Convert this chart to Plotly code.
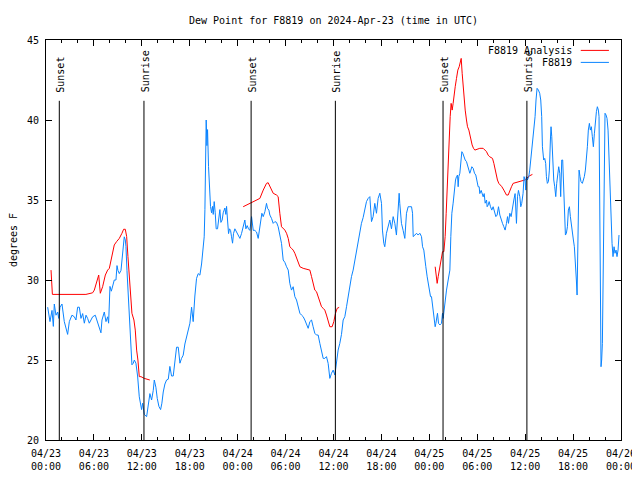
import pandas as pd
import plotly.graph_objects as go

START = pd.Timestamp("2024-04-23 00:00")

# F8819 observations: hours after 2024-04-23 00:00 UTC, dew point (F)
obs_hours = [
    0.21, 0.50, 0.75, 0.92, 1.04, 1.25, 1.46, 1.59, 1.75, 2.00, 2.29, 2.50, 2.71, 2.92, 3.25, 3.55,
    3.75, 3.96, 4.17, 4.38, 4.59, 4.80, 5.01, 5.21, 5.42, 5.63, 5.84, 6.17, 6.47, 6.68, 6.88, 7.01,
    7.30, 7.51, 7.72, 7.84, 8.01, 8.18, 8.34, 8.55, 8.76, 8.89, 9.01, 9.18, 9.39, 9.51, 9.68, 9.80,
    9.93, 10.01, 10.14, 10.26, 10.43, 10.64, 10.76, 10.93, 11.06, 11.26, 11.47, 11.68, 11.85, 11.97,
    12.10, 12.31,
    12.60, 12.80, 13.01, 13.22, 13.43, 13.56, 13.76, 13.93, 14.14, 14.35, 14.51, 14.68, 14.89, 15.10,
    15.31, 15.51, 15.72, 15.93, 16.14, 16.35, 16.56, 16.77, 16.97, 17.18, 17.39, 17.60, 17.81, 18.02,
    18.23, 18.43, 18.64, 18.85, 19.06, 19.27, 19.48, 19.69, 19.81, 19.90, 19.98, 20.06, 20.15, 20.23,
    20.35, 20.48, 20.60, 20.73, 20.85, 20.94, 21.06, 21.19, 21.31, 21.48, 21.65, 21.77, 21.90, 22.06,
    22.19, 22.40, 22.52, 22.61, 22.73, 22.86, 22.98, 23.11, 23.23, 23.36, 23.48, 23.65, 23.86, 24.07,
    24.28, 24.48, 24.69, 24.90, 25.03, 25.19, 25.36,
    25.53, 25.74, 25.95, 26.15, 26.36, 26.57, 26.70, 26.86, 27.03, 27.20, 27.41, 27.61, 27.74, 27.91,
    28.03, 28.24, 28.45, 28.66, 28.87, 29.07, 29.28, 29.49, 29.70, 29.91, 30.12, 30.33, 30.53, 30.74,
    30.95, 31.16, 31.37, 31.58, 31.79, 31.99, 32.20, 32.41, 32.62, 32.83, 33.04, 33.25, 33.45, 33.66,
    33.87, 34.08, 34.29, 34.50, 34.71, 34.91, 35.12, 35.33, 35.54, 35.75, 35.96, 36.17, 36.37, 36.58,
    36.79, 37.00, 37.21, 37.42, 37.63, 37.83, 38.04, 38.25, 38.46, 38.67, 38.88, 39.09, 39.29, 39.50,
    39.71, 39.92, 40.13, 40.34, 40.55, 40.76, 40.96, 41.17, 41.38, 41.59, 41.80, 42.01, 42.13, 42.30,
    42.42, 42.63, 42.84, 43.05, 43.26, 43.47, 43.68, 43.88, 44.09, 44.22, 44.30, 44.51, 44.72, 44.93,
    45.14, 45.35, 45.56, 45.77, 45.90, 45.98, 46.19, 46.40, 46.60, 46.81, 47.02, 47.15, 47.31, 47.44,
    47.56, 47.73, 47.86, 47.98, 48.15, 48.27, 48.40, 48.48, 48.61, 48.73, 48.82, 48.90, 49.02, 49.15,
    49.32, 49.52, 49.65, 49.73, 49.86, 49.98, 50.15, 50.36, 50.57, 50.69, 50.82, 50.98, 51.11, 51.28,
    51.40, 51.53, 51.61, 51.69, 51.82, 51.94, 52.07, 52.19, 52.32, 52.49, 52.65, 52.78, 52.90, 53.07,
    53.20, 53.32, 53.49, 53.66, 53.82, 53.95, 54.11, 54.24, 54.32, 54.49, 54.66, 54.74, 54.87, 54.99,
    55.16, 55.24, 55.37, 55.49, 55.66, 55.82, 55.99, 56.16, 56.33, 56.49, 56.66, 56.83, 56.99, 57.16,
    57.33, 57.49, 57.66, 57.79, 57.91, 58.08, 58.24, 58.41, 58.58, 58.74, 58.91, 59.04, 59.16, 59.33,
    59.45, 59.57, 59.74, 59.86, 59.99, 60.07, 60.15, 60.28, 60.45, 60.57, 60.70, 60.82, 60.99, 61.11,
    61.24, 61.36, 61.49, 61.66, 61.82, 61.95, 62.07, 62.16, 62.32, 62.45, 62.57, 62.66, 62.78, 62.91,
    63.03, 63.16, 63.24, 63.33, 63.45, 63.58, 63.70, 63.83, 63.95, 64.08, 64.20, 64.33, 64.45, 64.58,
    64.70, 64.79, 64.91, 65.04, 65.16, 65.29, 65.41, 65.54, 65.66, 65.79, 65.91, 66.04, 66.16, 66.29,
    66.41, 66.50, 66.58, 66.66, 66.75, 66.87, 66.99, 67.16, 67.29, 67.41, 67.54, 67.66, 67.79, 67.91,
    68.04, 68.16, 68.29, 68.41, 68.54, 68.67, 68.79, 68.92, 69.04, 69.17, 69.25, 69.33, 69.42, 69.50,
    69.58, 69.67, 69.75, 69.83, 69.92, 70.00, 70.13, 70.25, 70.38, 70.50, 70.63, 70.75, 70.88, 71.00,
    71.13, 71.25, 71.38, 71.50, 71.63, 71.75,
]
obs_dewpt = [
    28.3, 27.4, 28.1, 27.1, 28.5, 27.8, 28.0, 27.6, 28.3, 28.5, 27.4, 26.9, 26.6, 27.4, 27.8, 27.7,
    27.5, 28.3, 28.3, 27.6, 27.9, 27.3, 27.8, 27.6, 27.3, 27.5, 27.7, 27.8, 27.3, 27.1, 26.7, 27.5,
    28.0, 27.4, 27.7, 27.3, 29.6, 29.3, 29.7, 30.0, 30.0, 30.9, 30.6, 30.4, 30.6, 31.25, 31.9, 32.7,
    32.5, 32.1, 30.6, 29.6, 27.7, 25.8, 24.7, 24.8, 25.0, 24.8, 24.0, 22.7, 22.3, 21.9,
    22.3, 21.6,
    21.46, 22.3, 22.9, 22.5, 23.1, 23.75, 23.3, 22.6, 22.1, 21.9, 22.3, 23.0, 23.5, 23.75,
    23.8, 24.6, 24.0, 24.0, 24.8, 25.8, 25.8, 24.8, 25.1, 25.3, 26.0, 26.5, 26.8, 27.3,
    28.3, 27.4, 29.0, 30.1, 30.4, 30.3, 31.0, 32.1, 32.7, 34.4, 38.1, 40.0, 38.4, 39.4,
    37.1, 35.6, 34.6, 34.2, 34.6, 34.1, 34.9, 34.2, 33.2, 33.2, 33.9, 34.4, 33.6, 33.75,
    34.2, 34.5, 34.1, 34.6, 33.75, 32.9, 33.2, 33.1, 32.7, 32.3, 32.9, 33.2, 33.0, 32.8,
    32.6, 32.9, 33.4, 33.75, 33.2, 33.4, 33.2,
    33.1, 33.96, 33.1, 33.1, 33.0, 32.6, 33.1, 33.75, 34.17, 33.96, 34.27, 34.79, 34.48, 34.37,
    34.06, 33.85, 33.54, 33.65, 33.6, 33.33, 32.71, 32.29, 31.25, 31.1, 30.83, 30.62, 29.79, 29.37,
    29.58, 28.96, 28.75, 28.33, 27.92, 27.81, 27.71, 27.5, 27.29, 26.98, 27.4, 27.5, 27.08, 26.67,
    26.56, 26.56, 26.04, 25.52, 25.1, 25.1, 25.21, 24.79, 23.85, 24.17, 24.37, 24.06, 24.79, 25.62,
    26.04, 26.6, 27.5, 27.71, 28.33, 28.96, 29.58, 30.21, 30.62, 31.25, 31.87, 32.5, 33.0, 33.54,
    33.9, 34.37, 34.9, 35.1, 35.21, 33.65, 33.96, 34.79, 34.17, 35.1, 35.42, 34.79, 33.12, 32.29,
    32.08, 32.92, 33.44, 33.75, 33.2, 33.96, 33.54, 32.81, 34.37, 35.42, 34.79, 33.54, 33.1, 32.6,
    34.17, 34.58, 34.58, 34.58, 34.17, 32.71, 32.81, 32.92, 32.81, 32.92, 32.71, 32.08, 31.87, 31.46,
    30.83, 30.2, 29.79, 29.48, 28.96, 28.96, 28.33, 27.92, 27.71, 27.08, 27.29, 27.71, 27.92, 27.29,
    27.19, 27.29, 27.92, 27.6, 28.12, 28.96, 29.37, 30.0, 30.62, 32.71, 34.17, 34.8, 35.6, 36.25,
    36.46, 36.56, 35.83, 36.46, 36.67, 37.29, 38.02, 37.92, 37.71, 37.5, 37.4, 37.19, 37.08, 36.67,
    36.87, 37.08, 36.98, 36.67, 36.56, 36.15, 35.83, 35.83, 35.4, 35.6, 35.4, 35.2, 35.4, 34.8,
    35.0, 34.58, 34.69, 34.9, 34.58, 34.37, 34.58, 34.17, 33.96, 34.06, 34.58, 34.06, 33.75, 33.54,
    33.33, 33.12, 33.54, 33.96, 33.54, 34.17, 33.96, 34.58, 35.0, 35.4, 33.54, 35.2, 35.6, 35.2,
    34.58, 34.79, 35.42, 36.46, 36.25, 35.62, 36.46, 36.25, 36.46, 36.87, 37.5, 38.12, 38.75, 39.37,
    40.21, 41.25, 41.98, 41.87, 41.67, 41.25, 40.21, 38.33, 37.5, 37.6, 37.29, 36.46, 36.04, 36.15,
    36.87, 38.75, 39.58, 38.96, 37.08, 36.25, 35.83, 35.21, 36.04, 36.87, 37.08, 36.67, 35.21, 37.5,
    37.5, 36.25, 34.17, 32.81, 32.92, 33.33, 34.37, 34.58, 33.96, 33.33, 32.92, 32.5, 32.08, 31.25,
    30.0, 29.06, 31.04, 33.54, 36.87, 36.46, 36.15, 36.04, 36.25, 36.46, 36.87, 37.5, 38.33, 39.37,
    39.79, 39.37, 39.58, 38.96, 38.33, 39.17, 40.0, 40.52, 40.83, 40.62, 40.21, 36.25, 28.75, 24.58,
    25.0, 26.04, 28.96, 34.17, 38.33, 40.42, 40.31, 40.1, 39.37, 37.29, 35.62, 33.75, 32.29, 31.46,
    32.08, 31.67, 31.87, 31.46, 31.87, 32.81,
]

# F8819 analysis: three separate overnight segments
ana1_hours = [0.63, 0.75, 0.80, 5.00, 5.84, 6.05, 6.26, 6.60, 6.80, 7.09, 7.43, 7.72, 7.93, 8.14,
              8.34, 8.55, 8.84, 9.18, 9.51, 9.72, 9.93, 10.10, 10.26, 10.43, 10.64, 10.76, 11.01,
              11.18, 11.35, 11.51, 11.68, 11.89, 12.31, 13.00]
ana1_dewpt = [30.62, 29.17, 29.1, 29.1, 29.2, 29.37, 29.79, 30.31, 29.17, 29.58, 30.31, 30.62, 30.73,
              31.25, 31.67, 32.19, 32.4, 32.6, 32.92, 33.17, 33.17, 32.71, 31.46, 30.42, 29.17, 27.92,
              27.5, 26.87, 25.62, 25.0, 23.96, 23.96, 23.85, 23.75]
ana2_hours = [24.69, 25.11, 25.53, 25.95, 26.36, 26.78, 27.20, 27.61, 27.82, 28.03, 28.45, 28.87,
              29.07, 29.28, 29.49, 29.91, 30.12, 30.33, 30.53, 30.74, 30.95, 31.16, 31.37, 31.58,
              31.79, 32.20, 32.62, 33.04, 33.25, 33.45, 33.66, 33.87, 34.08, 34.29, 34.50, 34.71,
              34.91, 35.12, 35.33, 35.54, 35.83, 36.04, 36.25, 36.46, 36.71]
ana2_dewpt = [34.58, 34.69, 34.79, 34.9, 35.0, 35.1, 35.62, 36.04, 36.08, 35.83, 35.42, 35.31, 35.21,
              34.17, 33.33, 33.12, 32.92, 32.6, 32.08, 31.98, 31.87, 31.67, 31.35, 31.04, 30.83,
              30.73, 30.67, 30.62, 30.21, 29.79, 29.37, 29.27, 28.96, 28.65, 28.33, 28.23, 28.12,
              27.81, 27.5, 27.08, 27.08, 27.4, 27.92, 28.23, 28.29]
ana3_hours = [48.73, 48.86, 48.98, 49.11, 49.23, 49.40, 49.57, 49.65, 49.82, 49.98, 50.11, 50.23,
              50.36, 50.48, 50.61, 50.73, 50.86, 50.98, 51.11, 51.24, 51.40, 51.57, 51.74, 51.86,
              51.99, 52.11, 52.24, 52.36, 52.49, 52.65, 52.78, 52.95, 53.07, 53.20, 53.36, 53.53,
              53.70, 54.32, 54.74, 55.16, 55.37, 55.57, 55.91, 56.08, 56.24, 56.41, 56.53, 56.70,
              56.91, 57.08, 57.33, 57.49, 57.66, 57.87, 58.08, 58.29, 58.49, 59.12, 59.54, 59.95,
              60.50, 60.91]
ana3_dewpt = [30.83, 30.1, 29.79, 30.21, 30.62, 31.04, 31.46, 31.77, 31.77, 32.71, 34.17, 35.83,
              37.08, 38.75, 40.21, 41.04, 40.62, 41.04, 41.67, 42.08, 42.6, 43.12, 43.33, 43.65,
              43.85, 42.92, 42.08, 41.25, 40.62, 40.0, 39.58, 39.37, 39.06, 38.75, 38.44, 38.23,
              38.12, 38.23, 38.23, 38.02, 37.8, 37.7, 37.6, 37.29, 36.87, 36.56, 36.25, 36.04,
              35.94, 35.83, 35.62, 35.42, 35.31, 35.31, 35.62, 35.83, 36.04, 36.15, 36.19, 36.25,
              36.5, 36.6]

# Sun events (UTC)
sun_labels = ["Sunset", "Sunrise", "Sunset", "Sunrise", "Sunset", "Sunrise"]
sun_times = ["2024-04-23 01:40", "2024-04-23 12:16", "2024-04-24 01:41",
             "2024-04-24 12:14", "2024-04-25 01:43", "2024-04-25 12:13"]

RED = "#ff0000"
BLUE = "#0a84ff"
FONT = "DejaVu Sans Mono"

# page body has an 8px margin: figure is 632x472 placed at (8, 8)
W, H = 632, 472


def to_time(hours):
    return START + pd.to_timedelta(pd.Series(hours), unit="h")


fig = go.Figure()
for h, v in [(ana1_hours, ana1_dewpt), (ana2_hours, ana2_dewpt), (ana3_hours, ana3_dewpt)]:
    fig.add_trace(go.Scatter(x=to_time(h), y=v, mode="lines", line=dict(color=RED, width=1),
                             name="F8819 Analysis", showlegend=False))
fig.add_trace(go.Scatter(x=to_time(obs_hours), y=obs_dewpt, mode="lines",
                         line=dict(color=BLUE, width=1), name="F8819", showlegend=False))

for lab, t in zip(sun_labels, sun_times):
    fig.add_shape(type="line", x0=t, x1=t, y0=20, y1=41.2, xref="x", yref="y",
                  line=dict(color="black", width=1))
    fig.add_annotation(x=t, y=41.6, xref="x", yref="y", text=lab, textangle=-90,
                       showarrow=False, xanchor="center", yanchor="bottom", xshift=1,
                       font=dict(family=FONT, size=10, color="black"))

# legend (gnuplot style: text then sample line, top right)
for k, (name, col) in enumerate([("F8819 Analysis", RED), ("F8819", BLUE)]):
    yp = 0.974 - k * 0.03
    fig.add_annotation(x=0.919, y=yp, xref="paper", yref="paper", text=name, showarrow=False,
                       xanchor="right", yanchor="middle", font=dict(family=FONT, size=10, color="black"))
    fig.add_shape(type="line", x0=0.930, x1=0.979, y0=yp, y1=yp, xref="paper", yref="paper",
                  line=dict(color=col, width=1))

fig.update_layout(
    width=W, height=H,
    margin=dict(l=38, r=19, t=32, b=40, autoexpand=False),
    paper_bgcolor="white", plot_bgcolor="white",
    font=dict(family=FONT, size=10, color="black"),
    title=dict(text="Dew Point for F8819 on 2024-Apr-23 (time in UTC)", x=0.5, xref="paper",
               xanchor="center", y=1 - 12 / H, yref="container", yanchor="middle",
               font=dict(family=FONT, size=10, color="black")),
    showlegend=False,
)
fig.update_xaxes(
    type="date", range=["2024-04-23 00:00", "2024-04-26 00:00"], automargin=False,
    dtick=6 * 3600 * 1000, tick0="2024-04-23 00:00", tickformat="%m/%d<br>%H:%M",
    ticks="inside", ticklen=6, tickcolor="black", showline=True, linecolor="black", linewidth=1,
    mirror="ticks", showgrid=False, zeroline=False, ticklabelstandoff=4,
    minor=dict(dtick=2 * 3600 * 1000, ticks="inside", ticklen=3, tickcolor="black", showgrid=False),
    tickfont=dict(family=FONT, size=10, color="black"),
)
fig.update_yaxes(
    range=[20, 45], dtick=5, ticks="inside", ticklen=6, tickcolor="black", automargin=False,
    showline=True, linecolor="black", linewidth=1, mirror="ticks", showgrid=False, zeroline=False,
    tickfont=dict(family=FONT, size=10, color="black"), ticklabelstandoff=4,
    title=dict(text="degrees F", standoff=18, font=dict(family=FONT, size=10, color="black")),
)

fig.write_html("out.html")
